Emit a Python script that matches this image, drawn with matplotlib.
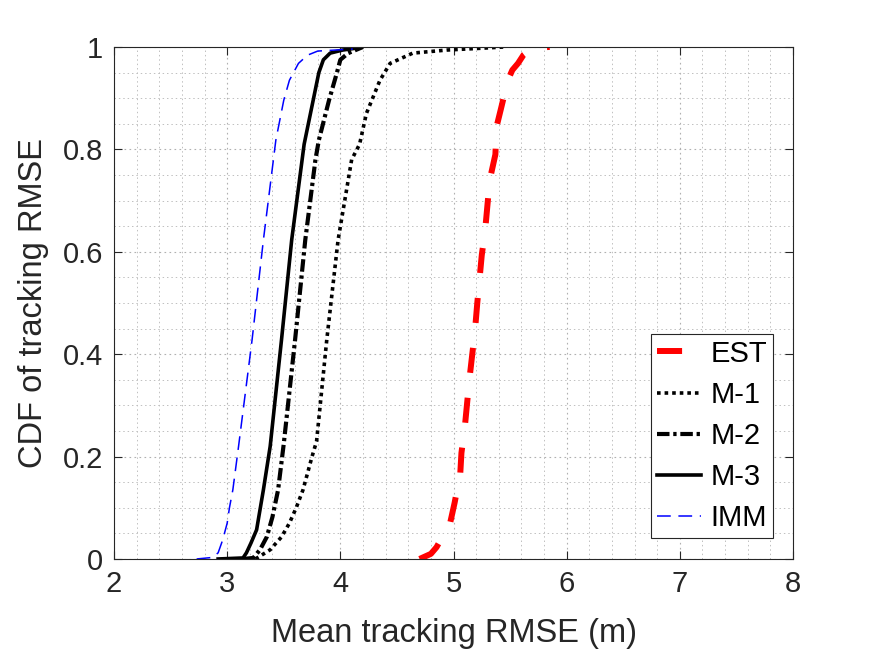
import matplotlib
matplotlib.use('Agg')
import matplotlib.pyplot as plt
from matplotlib.ticker import MultipleLocator

plt.rcParams['font.family'] = ['Liberation Sans', 'DejaVu Sans']

# CDF curves: x = mean RMSE (m), y = CDF
est_x = [4.70, 4.80, 4.85, 4.97, 5.01, 5.06, 5.07, 5.10, 5.14, 5.19, 5.21, 5.25,
         5.28, 5.32, 5.37, 5.38, 5.42, 5.48, 5.52, 5.57, 5.62, 5.68, 5.75, 5.85]
est_y = [0.0, 0.01, 0.023, 0.07, 0.11, 0.168, 0.207, 0.258, 0.35, 0.447, 0.5, 0.594,
         0.643, 0.74, 0.79, 0.844, 0.88, 0.935, 0.955, 0.968, 0.985, 0.995, 0.999, 1.0]

m1_x = [3.25, 3.38, 3.48, 3.55, 3.61, 3.67, 3.75, 3.79, 3.88, 3.98, 4.10, 4.17,
        4.23, 4.35, 4.44, 4.64, 4.94, 5.20, 5.45]
m1_y = [0.0, 0.018, 0.043, 0.07, 0.1, 0.135, 0.2, 0.23, 0.428, 0.623, 0.78, 0.81,
        0.87, 0.935, 0.968, 0.988, 0.994, 0.997, 1.0]

m2_x = [3.14, 3.23, 3.29, 3.35, 3.40, 3.45, 3.50, 3.60, 3.69, 3.78, 3.81, 3.90,
        3.97, 4.00, 4.07, 4.20]
m2_y = [0.0, 0.002, 0.018, 0.043, 0.082, 0.135, 0.225, 0.428, 0.623, 0.78, 0.818,
        0.896, 0.95, 0.975, 0.988, 1.0]

m3_x = [2.92, 3.14, 3.17, 3.21, 3.26, 3.29, 3.32, 3.38, 3.48, 3.57, 3.68, 3.76,
        3.81, 3.85, 3.91, 4.02, 4.15]
m3_y = [0.0, 0.002, 0.012, 0.031, 0.057, 0.096, 0.135, 0.22, 0.428, 0.623, 0.81,
        0.896, 0.95, 0.975, 0.988, 0.994, 0.998]

imm_x = [2.73, 2.87, 2.92, 2.96, 3.00, 3.02, 3.05, 3.10, 3.22, 3.32, 3.43, 3.50,
         3.55, 3.63, 3.71, 3.80, 4.11]
imm_y = [0.0, 0.003, 0.012, 0.037, 0.07, 0.1, 0.135, 0.219, 0.428, 0.623, 0.818,
         0.896, 0.935, 0.968, 0.984, 0.992, 0.996]

x_ticks = [2, 3, 4, 5, 6, 7, 8]
y_ticks = [0, 0.2, 0.4, 0.6, 0.8, 1]
y_ticklabels = ['0', '0.2', '0.4', '0.6', '0.8', '1']

dark = '#262626'


def main():
    fig = plt.figure(figsize=(8.75, 6.57), dpi=100)
    ax = fig.add_axes([0.1303, 0.1492, 0.776, 0.7793])

    ax.plot(est_x, est_y, color='red', lw=4.3, dashes=(4.2, 4.2), label='EST')
    ax.plot(m1_x, m1_y, color='black', lw=2.6, dashes=(1.0, 1.1), label='M-1')
    ax.plot(m2_x, m2_y, color='black', lw=3.0, dashes=(3.0, 0.9, 0.8, 0.9), label='M-2')
    ax.plot(m3_x, m3_y, color='black', lw=2.6, ls='-', label='M-3')
    ax.plot(imm_x, imm_y, color='blue', lw=1.1, dashes=(9, 5), label='IMM')

    ax.set_xlim(2, 8)
    ax.set_ylim(0, 1)
    ax.set_xticks(x_ticks)
    ax.set_yticks(y_ticks)
    ax.set_yticklabels(y_ticklabels)
    ax.xaxis.set_minor_locator(MultipleLocator(0.2))
    ax.yaxis.set_minor_locator(MultipleLocator(0.05))

    ax.grid(which='major', color='#b0b0b0', ls=(0, (1.5, 3)), lw=0.8)
    ax.grid(which='minor', color='#c0c0c0', ls=(0, (1.5, 3)), lw=0.7)
    ax.set_axisbelow(True)

    ax.tick_params(which='major', direction='in', length=6, width=0.8,
                   top=True, right=True, labelsize=21, colors=dark, pad=8)
    ax.tick_params(which='minor', length=0, top=True, right=True)
    for sp in ax.spines.values():
        sp.set_color(dark)
        sp.set_linewidth(0.8)

    ax.set_xlabel('Mean tracking RMSE (m)', fontsize=23.5, color=dark, labelpad=14)
    ax.set_ylabel('CDF of tracking RMSE', fontsize=23.5, color=dark, labelpad=10)

    leg = ax.legend(loc='lower right', bbox_to_anchor=(0.971, 0.041),
                    borderaxespad=0, fontsize=21, fancybox=False, framealpha=1,
                    handlelength=1.5, handletextpad=0.35, labelspacing=0.45,
                    borderpad=0.2)
    leg.get_frame().set_edgecolor(dark)
    leg.get_frame().set_linewidth(0.8)
    for t in leg.get_texts():
        t.set_color('black')

    fig.savefig('out.png', dpi=100, facecolor='white')


if __name__ == '__main__':
    main()
